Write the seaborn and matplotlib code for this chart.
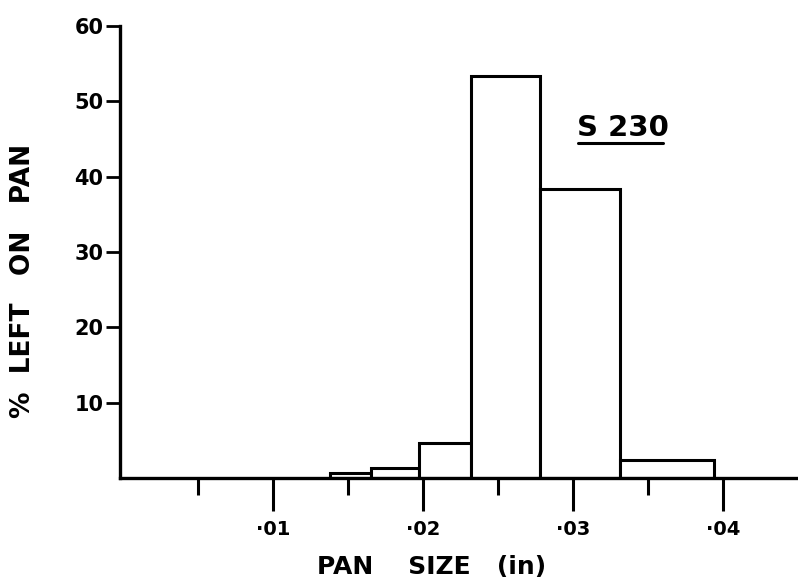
import numpy as np
import pandas as pd
import matplotlib
matplotlib.use("Agg")
import matplotlib.pyplot as plt
import seaborn as sns

# sieve openings (in) used as bin edges, and % retained on each pan
pan_edges = [0.0138, 0.0165, 0.0197, 0.0232, 0.0278, 0.0331, 0.0394]
pct_left = [0.6, 1.3, 4.7, 53.3, 38.3, 2.4]
sample = "S 230"

x_major = [0.01, 0.02, 0.03, 0.04]
x_labels = ["\u00b701", "\u00b702", "\u00b703", "\u00b704"]
x_minor = [0.005, 0.015, 0.025, 0.035]
y_ticks = [10, 20, 30, 40, 50, 60]

centers = [(a + b) / 2 for a, b in zip(pan_edges[:-1], pan_edges[1:])]
df = pd.DataFrame({"size": centers, "pct": pct_left})

sns.set_style("ticks")
plt.rcParams["font.family"] = ["DejaVu Sans"]
plt.rcParams["font.weight"] = "bold"
plt.rcParams["text.color"] = "black"
plt.rcParams["axes.labelcolor"] = "black"
plt.rcParams["xtick.color"] = "black"
plt.rcParams["ytick.color"] = "black"
plt.rcParams["axes.edgecolor"] = "black"

fig = plt.figure(figsize=(7.98, 5.88), dpi=100)
ax = fig.add_axes([120 / 798, 110 / 588, 677 / 798, 452 / 588])

sns.histplot(data=df, x="size", weights="pct", bins=pan_edges, stat="count",
             color="white", edgecolor="black", linewidth=2.2, alpha=1, ax=ax)

ax.set_xlim(-0.0002, 0.04493)
ax.set_ylim(0, 60)

ax.set_xticks(x_major)
ax.set_xticklabels(x_labels, fontsize=14, fontweight="bold")
ax.set_xticks(x_minor, minor=True)
ax.set_yticks(y_ticks)
ax.set_yticklabels([str(v) for v in y_ticks], fontsize=15, fontweight="bold")

ax.tick_params(axis="x", which="major", direction="out", length=24, width=2.2, pad=6)
ax.tick_params(axis="x", which="minor", direction="out", length=12, width=2.2)
ax.tick_params(axis="y", direction="out", length=10, width=2, pad=2)

for s in ["top", "right"]:
    ax.spines[s].set_visible(False)
for s in ["left", "bottom"]:
    ax.spines[s].set_linewidth(2.4)

ax.set_xlabel("PAN    SIZE   (in)", fontsize=18, fontweight="bold")
ax.xaxis.set_label_coords((432 - 120) / 677, -(555 - 478) / 452)
ax.set_ylabel("%  LEFT   ON   PAN", fontsize=19, fontweight="bold")
ax.yaxis.set_label_coords(-(120 - 36) / 677, (478 - 281) / 452)

ax.text(0.0333, 46.5, sample, fontsize=21, fontweight="bold",
        ha="center", va="center")
ax.plot([(578 - 120) / 677, (663 - 120) / 677], [0.741, 0.741],
        transform=ax.transAxes, color="black", linewidth=2.2, clip_on=False)

fig.savefig("out.png", dpi=100)
